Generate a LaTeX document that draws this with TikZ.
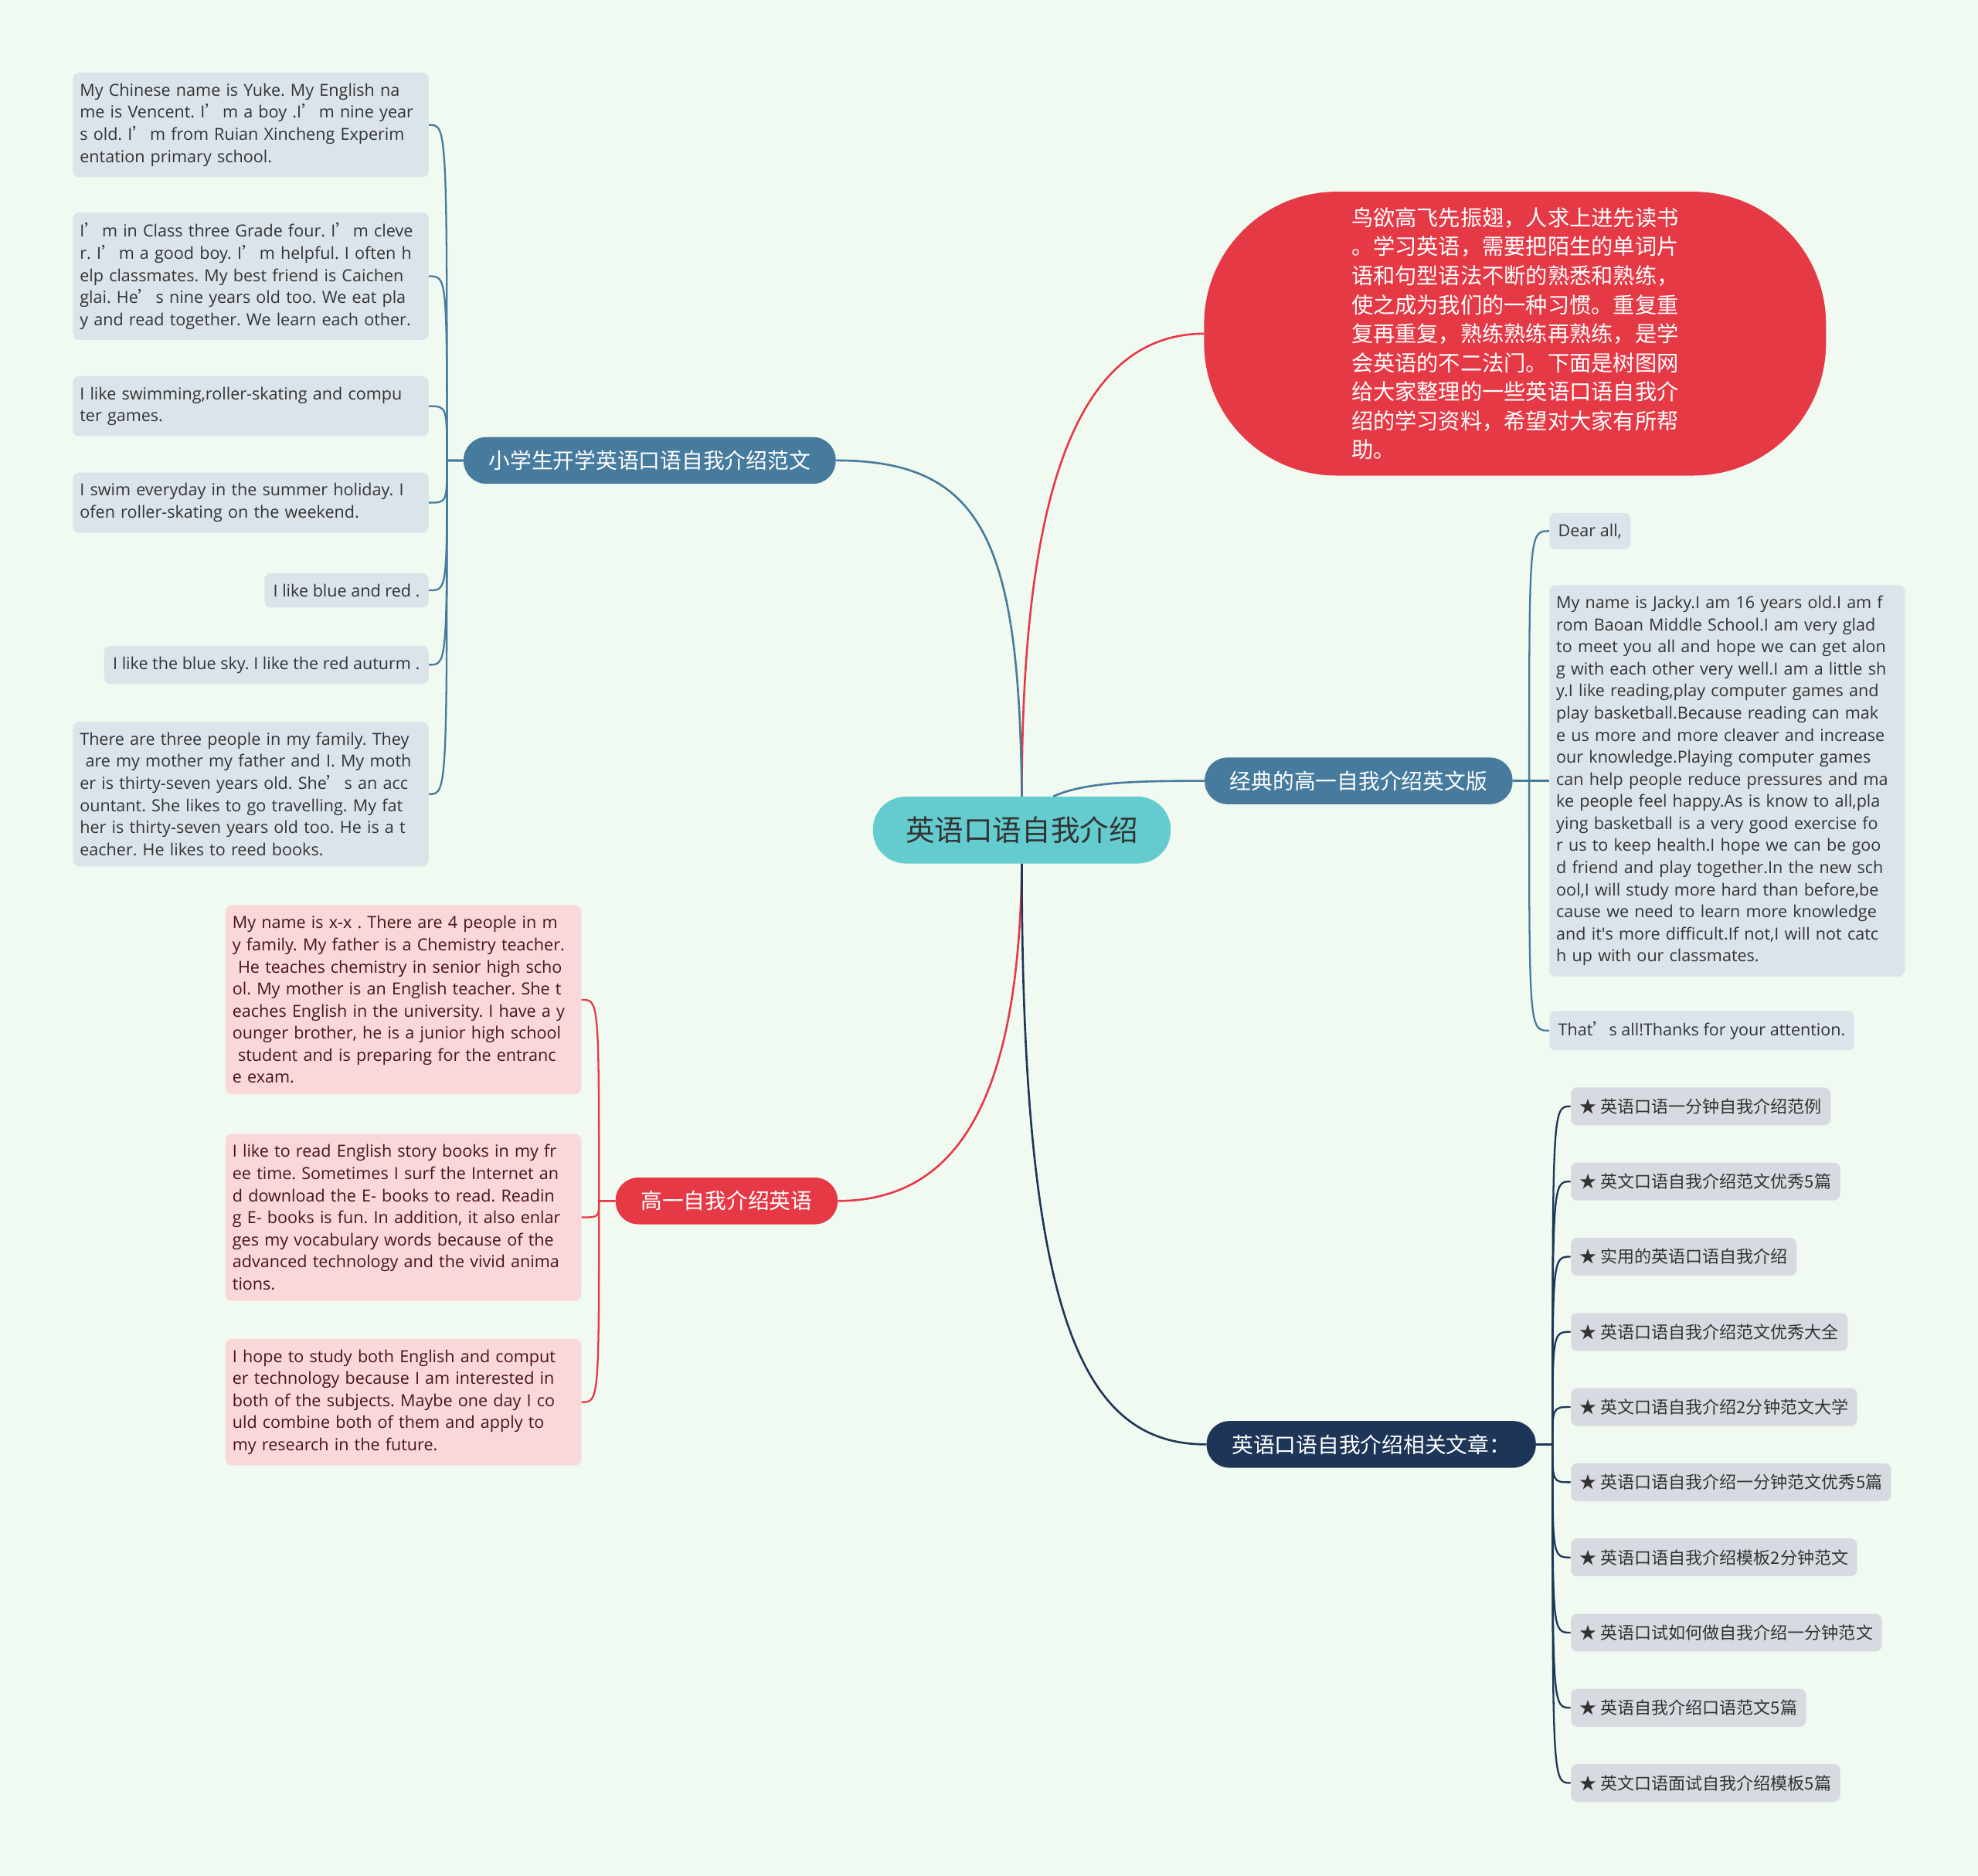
\documentclass[tikz,border=0pt]{standalone}
\usepackage{fontspec}
\setmainfont{Open Sans}
\newfontfamily\cjk{Noto Sans CJK SC}
\usepackage{tikz}
\usetikzlibrary{positioning,calc}
\definecolor{bgmint}{HTML}{F1FAF0}
\definecolor{rootteal}{HTML}{64CBCE}
\definecolor{steel}{HTML}{467B9D}
\definecolor{redbr}{HTML}{E63946}
\definecolor{navy}{HTML}{1D3557}
\definecolor{leafblue}{HTML}{DCE4EB}
\definecolor{leafpink}{HTML}{F9D7DB}
\definecolor{leafgray}{HTML}{D7DBE1}
\definecolor{inkdark}{HTML}{333333}
\definecolor{inkred}{HTML}{4A1414}
\newcommand{\ap}{\makebox[0.72em][l]{\cjk ’}}
\frenchspacing

\begin{document}
\begin{tikzpicture}[x=1pt, y=-1pt,
  root/.style={rounded corners=26pt, fill=rootteal, minimum height=53pt, inner xsep=26pt, text=inkdark, font=\cjk\fontsize{23}{28}\selectfont},
  topic/.style={rounded corners=18pt, minimum height=37pt, inner xsep=20pt, text=white, font=\cjk\fontsize{17}{21}\selectfont},
  notebox/.style={rounded corners=5pt, inner xsep=7pt, inner ysep=8.5pt, fill=leafblue, text=inkdark, font=\fontsize{13.2}{17.5}\selectfont},
  para/.style={notebox, inner xsep=5.5pt, text width=271pt, align=left},
  relbox/.style={rounded corners=5pt, inner xsep=7pt, inner ysep=0pt, minimum height=30pt, fill=leafgray, text=inkdark, font=\cjk\fontsize{13.5}{16}\selectfont},
  link/.style={line width=1.6pt},
  twig/.style={line width=1.4pt}
]
  \fill[bgmint] (0,0) rectangle (1568,1487);
  \useasboundingbox (0,0) rectangle (1568,1487);

  % centre and main topics
  \node[root] (c) at (810,658) {英语口语自我介绍};
  \node[topic, fill=steel] (b1) at (515,365) {小学生开学英语口语自我介绍范文};
  \node[topic, fill=steel] (b2) at (1077,619) {经典的高一自我介绍英文版};
  \node[topic, fill=redbr] (b3) at (576,952) {高一自我介绍英语};
  \node[topic, fill=navy] (b4) at (1087,1145) {英语口语自我介绍相关文章：};
  \node[rounded corners=105pt, fill=redbr, minimum width=493pt, minimum height=225pt, text=white,
        font=\cjk\fontsize{17.3}{23}\selectfont, align=left] (intro) at (1201,264.5)
  {鸟欲高飞先振翅，人求上进先读书\\。学习英语，需要把陌生的单词片\\语和句型语法不断的熟悉和熟练，\\使之成为我们的一种习惯。重复重\\复再重复，熟练熟练再熟练，是学\\会英语的不二法门。下面是树图网\\给大家整理的一些英语口语自我介\\绍的学习资料，希望对大家有所帮\\助。};

  \draw[link, redbr] (c.north) .. controls (810,400) and (850,265) .. (intro.west);
  \draw[link, steel] (c.north) .. controls (808,430) and (780,365) .. (b1.east);
  \draw[link, steel] ($(c.north)+(25,0)$) .. controls (860,620) and (900,619) .. (b2.west);
  \draw[link, redbr] (c.south) .. controls (808,870) and (760,952) .. (b3.east);
  \draw[link, navy] (c.south) .. controls (810,1050) and (860,1145) .. (b4.west);

  % junctions next to the topics
  \coordinate (j1) at ($(b1.west)+(-13,0)$);
  \coordinate (j2) at ($(b2.east)+(13,0)$);
  \coordinate (j3) at ($(b3.west)+(-13,0)$);
  \coordinate (j4) at ($(b4.east)+(13,0)$);

  % left column
  \node[para, anchor=east] (l1) at (340,99) {My Chinese name is Yuke. My English na\\me is Vencent. I\ap{} m a boy .I\ap{} m nine year\\s old. I\ap{} m from Ruian Xincheng Experim\\entation primary school.};
  \node[para, anchor=east] (l2) at (340,219) {I\ap{} m in Class three Grade four. I\ap{} m cleve\\r. I\ap{} m a good boy. I\ap{} m helpful. I often h\\elp classmates. My best friend is Caichen\\glai. He\ap{} s nine years old too. We eat pla\\y and read together. We learn each other.};
  \node[para, anchor=east] (l3) at (340,322) {I like swimming,roller-skating and compu\\ter games.};
  \node[para, anchor=east] (l4) at (340,398.5) {I swim everyday in the summer holiday. I\\ofen roller-skating on the weekend.};
  \node[notebox, anchor=east] (l5) at (340,468) {I like blue and red .};
  \node[notebox, anchor=east] (l6) at (340,527) {I like the blue sky. I like the red auturm .};
  \node[para, anchor=east] (l7) at (340,629.5) {There are three people in my family. They\\\ are my mother my father and I. My moth\\er is thirty-seven years old. She\ap{} s an acc\\ountant. She likes to go travelling. My fat\\her is thirty-seven years old too. He is a t\\eacher. He likes to reed books.};

  \draw[twig, steel] (b1.west) -- (j1) .. controls (j1 |- l1.east) .. (l1.east);
  \draw[twig, steel] (b1.west) -- (j1) .. controls (j1 |- l2.east) .. (l2.east);
  \draw[twig, steel] (b1.west) -- (j1) .. controls (j1 |- l3.east) .. (l3.east);
  \draw[twig, steel] (b1.west) -- (j1) .. controls (j1 |- l4.east) .. (l4.east);
  \draw[twig, steel] (b1.west) -- (j1) .. controls (j1 |- l5.east) .. (l5.east);
  \draw[twig, steel] (b1.west) -- (j1) .. controls (j1 |- l6.east) .. (l6.east);
  \draw[twig, steel] (b1.west) -- (j1) .. controls (j1 |- l7.east) .. (l7.east);

  % high school, english version
  \node[notebox, anchor=west] (d1) at (1228,421) {Dear all,};
  \node[para, anchor=west] (d2) at (1228,619) {My name is Jacky.I am 16 years old.I am f\\rom Baoan Middle School.I am very glad\\to meet you all and hope we can get alon\\g with each other very well.I am a little sh\\y.I like reading,play computer games and\\play basketball.Because reading can mak\\e us more and more cleaver and increase\\our knowledge.Playing computer games\\can help people reduce pressures and ma\\ke people feel happy.As is know to all,pla\\ying basketball is a very good exercise fo\\r us to keep health.I hope we can be goo\\d friend and play together.In the new sch\\ool,I will study more hard than before,be\\cause we need to learn more knowledge\\and it\textquotesingle s more difficult.If not,I will not catc\\h up with our classmates.};
  \node[notebox, anchor=west] (d3) at (1228,817) {That\ap{} s all!Thanks for your attention.};

  \draw[twig, steel] (b2.east) -- (j2) .. controls (j2 |- d1.west) .. (d1.west);
  \draw[twig, steel] (b2.east) -- (j2) .. controls (j2 |- d2.west) .. (d2.west);
  \draw[twig, steel] (b2.east) -- (j2) .. controls (j2 |- d3.west) .. (d3.west);

  % high school, chinese title
  \node[para, fill=leafpink, text=inkred, anchor=east] (r1) at (461,792.5) {My name is x-x . There are 4 people in m\\y family. My father is a Chemistry teacher.\\\ He teaches chemistry in senior high scho\\ol. My mother is an English teacher. She t\\eaches English in the university. I have a y\\ounger brother, he is a junior high school\\\ student and is preparing for the entranc\\e exam.};
  \node[para, fill=leafpink, text=inkred, anchor=east] (r2) at (461,965) {I like to read English story books in my fr\\ee time. Sometimes I surf the Internet an\\d download the E- books to read. Readin\\g E- books is fun. In addition, it also enlar\\ges my vocabulary words because of the\\advanced technology and the vivid anima\\tions.};
  \node[para, fill=leafpink, text=inkred, anchor=east] (r3) at (461,1111.5) {I hope to study both English and comput\\er technology because I am interested in\\both of the subjects. Maybe one day I co\\uld combine both of them and apply to\\my research in the future.};

  \draw[twig, redbr] (b3.west) -- (j3) .. controls (j3 |- r1.east) .. (r1.east);
  \draw[twig, redbr] (b3.west) -- (j3) .. controls (j3 |- r2.east) .. (r2.east);
  \draw[twig, redbr] (b3.west) -- (j3) .. controls (j3 |- r3.east) .. (r3.east);

  % related articles
  \node[relbox, anchor=west] (a1) at (1245,877) {★ 英语口语一分钟自我介绍范例};
  \node[relbox, anchor=west] (a2) at (1245,936.6) {★ 英文口语自我介绍范文优秀5篇};
  \node[relbox, anchor=west] (a3) at (1245,996.2) {★ 实用的英语口语自我介绍};
  \node[relbox, anchor=west] (a4) at (1245,1055.8) {★ 英语口语自我介绍范文优秀大全};
  \node[relbox, anchor=west] (a5) at (1245,1115.4) {★ 英文口语自我介绍2分钟范文大学};
  \node[relbox, anchor=west] (a6) at (1245,1175) {★ 英语口语自我介绍一分钟范文优秀5篇};
  \node[relbox, anchor=west] (a7) at (1245,1234.6) {★ 英语口语自我介绍模板2分钟范文};
  \node[relbox, anchor=west] (a8) at (1245,1294.2) {★ 英语口试如何做自我介绍一分钟范文};
  \node[relbox, anchor=west] (a9) at (1245,1353.8) {★ 英语自我介绍口语范文5篇};
  \node[relbox, anchor=west] (a10) at (1245,1413.4) {★ 英文口语面试自我介绍模板5篇};

  \draw[twig, navy] (b4.east) -- (j4) .. controls (j4 |- a1.west) .. (a1.west);
  \draw[twig, navy] (b4.east) -- (j4) .. controls (j4 |- a2.west) .. (a2.west);
  \draw[twig, navy] (b4.east) -- (j4) .. controls (j4 |- a3.west) .. (a3.west);
  \draw[twig, navy] (b4.east) -- (j4) .. controls (j4 |- a4.west) .. (a4.west);
  \draw[twig, navy] (b4.east) -- (j4) .. controls (j4 |- a5.west) .. (a5.west);
  \draw[twig, navy] (b4.east) -- (j4) .. controls (j4 |- a6.west) .. (a6.west);
  \draw[twig, navy] (b4.east) -- (j4) .. controls (j4 |- a7.west) .. (a7.west);
  \draw[twig, navy] (b4.east) -- (j4) .. controls (j4 |- a8.west) .. (a8.west);
  \draw[twig, navy] (b4.east) -- (j4) .. controls (j4 |- a9.west) .. (a9.west);
  \draw[twig, navy] (b4.east) -- (j4) .. controls (j4 |- a10.west) .. (a10.west);
\end{tikzpicture}
\end{document}
